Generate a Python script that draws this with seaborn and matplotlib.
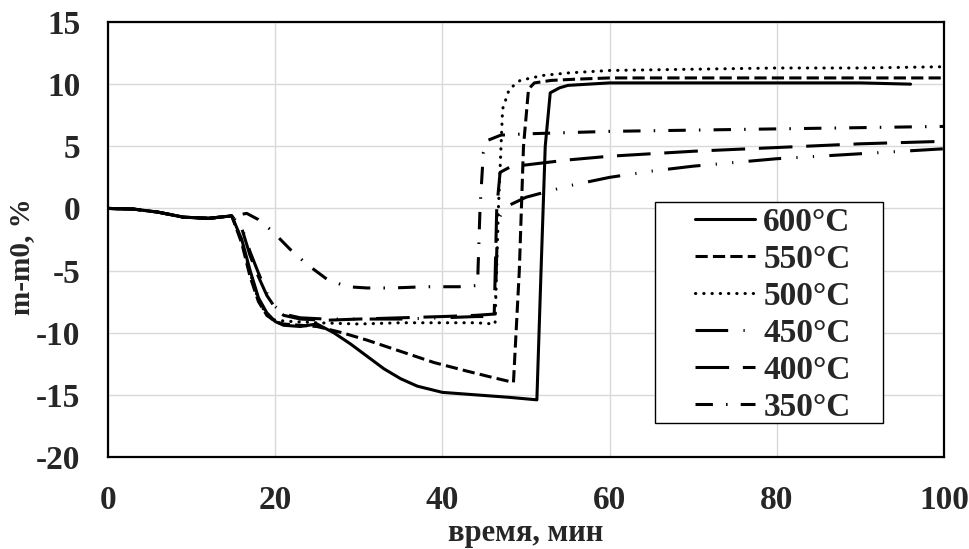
import matplotlib
matplotlib.use('Agg')
import matplotlib.pyplot as plt
from matplotlib.patches import Rectangle
import seaborn as sns

# время, мин / m-m0, %
t600 = [0, 3, 6, 9, 12, 14.8, 16, 17, 18, 19, 20, 21, 23, 25, 27, 29, 31, 33, 35, 37, 40, 44, 48, 51.3, 51.8, 52.3, 52.9, 54, 55, 60, 70, 80, 90, 96]
m600 = [0, -0.05, -0.3, -0.7, -0.8, -0.6, -2.5, -5.0, -7.2, -8.4, -9.1, -9.4, -9.5, -9.3, -10.0, -10.9, -11.9, -12.9, -13.7, -14.3, -14.8, -15.0, -15.2, -15.4, -5.0, 5.0, 9.3, 9.7, 9.9, 10.1, 10.1, 10.1, 10.1, 10.0]

t550 = [0, 3, 6, 9, 12, 14.8, 16, 17, 18, 19, 20, 21, 23, 25, 28, 31, 35, 39, 43, 46, 48.5, 49.2, 49.7, 50.3, 51, 53, 56, 60, 70, 80, 90, 100]
m550 = [0, -0.05, -0.3, -0.7, -0.8, -0.6, -2.8, -5.5, -7.5, -8.6, -9.1, -9.3, -9.4, -9.5, -10.0, -10.6, -11.5, -12.4, -13.1, -13.6, -14.0, -5.0, 5.0, 9.6, 10.1, 10.3, 10.4, 10.5, 10.5, 10.5, 10.5, 10.5]

t500 = [0, 3, 6, 9, 12, 14.8, 16, 17, 18, 19, 20, 22, 25, 30, 35, 40, 44, 46.3, 46.7, 47.2, 48, 49.3, 52, 55, 60, 70, 80, 90, 100]
m500 = [0, -0.05, -0.3, -0.7, -0.8, -0.6, -2.6, -5.2, -7.4, -8.6, -9.0, -9.1, -9.2, -9.3, -9.2, -9.2, -9.2, -9.3, 0.0, 8.0, 9.6, 10.3, 10.7, 10.9, 11.1, 11.2, 11.3, 11.3, 11.4]

t450 = [0, 3, 6, 9, 12, 14.8, 16, 17, 18, 19, 20, 21, 23, 26, 30, 35, 40, 44, 46.3, 46.6, 47.5, 50, 55, 60, 65, 70, 75, 80, 85, 90, 95, 100]
m450 = [0, -0.05, -0.3, -0.7, -0.8, -0.6, -1.5, -3.5, -5.2, -6.8, -7.9, -8.5, -8.8, -8.9, -8.9, -8.9, -8.8, -8.7, -8.7, -1.0, 0.1, 0.9, 1.8, 2.5, 3.0, 3.4, 3.7, 4.0, 4.2, 4.4, 4.6, 4.8]

t400 = [0, 3, 6, 9, 12, 14.8, 16, 17, 18, 19, 20, 21, 23, 26, 30, 35, 40, 44, 46.2, 46.5, 46.9, 48, 50, 55, 60, 70, 80, 90, 100]
m400 = [0, -0.05, -0.3, -0.7, -0.8, -0.6, -1.6, -3.8, -5.5, -7.0, -8.0, -8.6, -8.9, -9.0, -8.9, -8.8, -8.7, -8.6, -8.5, 0.0, 2.9, 3.3, 3.5, 3.9, 4.2, 4.6, 4.9, 5.2, 5.4]

t350 = [0, 3, 6, 9, 12, 14.8, 16.6, 18, 19.6, 21.8, 23.8, 26.2, 28.6, 31, 34, 38, 42, 44.2, 44.5, 44.9, 45.5, 47, 50, 55, 60, 70, 80, 90, 100]
m350 = [0, -0.05, -0.3, -0.7, -0.8, -0.6, -0.4, -0.9, -1.8, -3.3, -4.5, -5.7, -6.3, -6.4, -6.4, -6.3, -6.3, -6.2, 0.0, 4.5, 5.5, 5.9, 6.0, 6.1, 6.2, 6.3, 6.4, 6.5, 6.6]

labels = ['600°C', '550°C', '500°C', '450°C', '400°C', '350°C']
styles = [
    '-',
    (0, (4, 1.7)),
    (0, (0.1, 2.6)),
    (0, (10.7, 5, 0.4, 5, 0.4, 5)),
    (0, (11, 4.5)),
    (0, (5.7, 4.3, 0.5, 4.3)),
]

sns.set_style('whitegrid')
plt.rcParams['font.family'] = ['Liberation Serif', 'DejaVu Serif']
plt.rcParams['font.weight'] = 'bold'
plt.rcParams['axes.unicode_minus'] = False

fig = plt.figure(figsize=(9.7, 5.49), dpi=100)
ax = fig.add_axes([108/970, 1-457/549, (944-108)/970, (457-22)/549])

series = [(t600, m600), (t550, m550), (t500, m500), (t450, m450), (t400, m400), (t350, m350)]
for (t, m), lab, ls in zip(series, labels, styles):
    sns.lineplot(x=t, y=m, ax=ax, color='black', linewidth=2.2, linestyle=ls,
                 label=lab, sort=False, estimator=None,
                 dash_capstyle='round' if lab == '500°C' else 'butt')

ax.set_xlim(0, 100)
ax.set_ylim(-20, 15)
ax.set_xticks([0, 20, 40, 60, 80, 100])
ax.set_yticks([-20, -15, -10, -5, 0, 5, 10, 15])
ax.grid(True, color='#d9d9d9', linewidth=1)
for s in ax.spines.values():
    s.set_color('black')
    s.set_linewidth(1.6)
ax.tick_params(length=0, pad=20, labelsize=24)
for lb in ax.get_xticklabels() + ax.get_yticklabels():
    lb.set_fontweight('bold')

ax.set_xlabel('время, мин', fontsize=22, fontweight='bold')
ax.set_ylabel('m-m0, %', fontsize=21, fontweight='bold')
ax.xaxis.set_label_coords(0.5, -0.143)
ax.yaxis.set_label_coords(-0.087, 0.46)

# legend box
ax.add_patch(Rectangle((655/970, 1-423/549), (883-655)/970, (423-202)/549,
                       transform=fig.transFigure, facecolor='white', edgecolor='black',
                       linewidth=1, zorder=4, clip_on=False))
leg = ax.legend(loc='upper left', bbox_to_anchor=(695/970, 1-207/549), bbox_transform=fig.transFigure,
                borderaxespad=0, frameon=False,
                prop={'size': 24, 'weight': 'bold'}, handlelength=1.8, handletextpad=0.25,
                labelspacing=0.18, borderpad=0)
leg.set_zorder(5)

fig.savefig('out.png', dpi=100)
